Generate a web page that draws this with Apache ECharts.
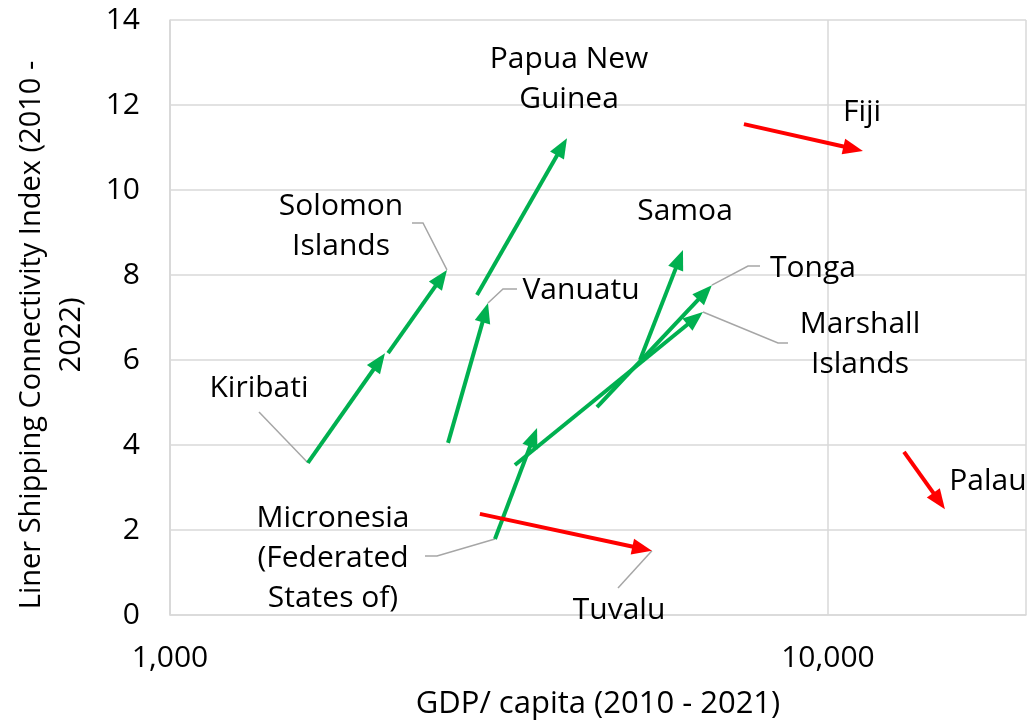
<!DOCTYPE html>
<html>
<head>
<meta charset="utf-8">
<script src="https://cdn.jsdelivr.net/npm/echarts@6/dist/echarts.min.js"></script>
<style>
  html, body { margin: 0; padding: 0; background: #fff; }
  #main { width: 1030px; height: 725px; }
</style>
</head>
<body>
<div id="main"></div>
<script>
// pacific island countries, 2010 -> 2021/22
const countries = ['Kiribati', 'Solomon Islands', 'Papua New Guinea', 'Vanuatu',
  'Micronesia (Federated States of)', 'Marshall Islands', 'Tonga', 'Samoa',
  'Tuvalu', 'Fiji', 'Palau']
const gdpStart = [1620, 2145, 2928, 2646, 3118, 3344, 4456, 5180, 2958, 7453, 13049]
const gdpEnd = [2122, 2636, 4012, 3043, 3613, 6457, 6662, 6021, 5401, 11303, 15060]
const lsciStart = [3.58, 6.16, 7.53, 4.05, 1.79, 3.53, 4.89, 6.0, 2.38, 11.55, 3.84]
const lsciEnd = [6.16, 8.12, 11.22, 7.34, 4.40, 7.13, 7.76, 8.59, 1.51, 10.92, 2.49]
const xTicks = [1000, 10000]

const FONT = '"Open Sans"'
const GREEN = '#00B050'
const RED = '#FF0000'

// label layout: text, centre, and leader line (ends at start or end point of the arrow)
const labelLayout = {
  'Kiribati': { text: 'Kiribati', pos: [259, 388], leader: [[259, 412]], at: 'start' },
  'Solomon Islands': { text: 'Solomon\nIslands', pos: [341, 226], leader: [[412, 223], [423, 223]], at: 'end' },
  'Papua New Guinea': { text: 'Papua New\nGuinea', pos: [569, 79] },
  'Vanuatu': { text: 'Vanuatu', pos: [581, 290], leader: [[517, 289], [503, 289]], at: 'end' },
  'Micronesia (Federated States of)': { text: 'Micronesia\n(Federated\nStates of)', pos: [333, 558], leader: [[425, 556], [437, 556]], at: 'start' },
  'Marshall Islands': { text: 'Marshall\nIslands', pos: [860, 344], leader: [[788, 343], [778, 343]], at: 'end' },
  'Tonga': { text: 'Tonga', pos: [813, 268], leader: [[760, 266], [748, 266]], at: 'end' },
  'Samoa': { text: 'Samoa', pos: [685, 211] },
  'Tuvalu': { text: 'Tuvalu', pos: [619, 610], leader: [[618, 588]], at: 'end' },
  'Fiji': { text: 'Fiji', pos: [862, 112] },
  'Palau': { text: 'Palau', pos: [988, 481] }
}

const arrowData = countries.map((c, i) => [gdpStart[i], lsciStart[i], gdpEnd[i], lsciEnd[i]])

const HEAD_LEN = 20
const HEAD_HALF = 8

// arrow from 2010 point to latest point; green when connectivity rose, red when it fell
function renderArrow(params, api) {
  const p0 = api.coord([api.value(0), api.value(1)])
  const p1 = api.coord([api.value(2), api.value(3)])
  const color = api.value(3) >= api.value(1) ? GREEN : RED
  const dx = p1[0] - p0[0], dy = p1[1] - p0[1]
  const len = Math.sqrt(dx * dx + dy * dy)
  const ux = dx / len, uy = dy / len
  const bx = p1[0] - ux * HEAD_LEN, by = p1[1] - uy * HEAD_LEN
  const lineEnd = [p1[0] - ux * HEAD_LEN * 0.6, p1[1] - uy * HEAD_LEN * 0.6]
  return {
    type: 'group',
    children: [{
      type: 'line',
      shape: { x1: p0[0], y1: p0[1], x2: lineEnd[0], y2: lineEnd[1] },
      style: { stroke: color, lineWidth: 4 }
    }, {
      type: 'polygon',
      shape: { points: [p1, [bx - uy * HEAD_HALF, by + ux * HEAD_HALF], [bx + uy * HEAD_HALF, by - ux * HEAD_HALF]] },
      style: { fill: color }
    }]
  }
}

const chart = echarts.init(document.getElementById('main'))

const option = {
  animation: false,
  grid: { left: 170, right: 4, top: 20, bottom: 110, outerBoundsMode: 'none' },
  xAxis: {
    type: 'log',
    logBase: 10,
    min: 1000,
    max: 20000,
    name: 'GDP/ capita (2010 - 2021)',
    nameLocation: 'middle',
    nameGap: 74,
    nameTextStyle: { fontFamily: FONT, fontSize: 31, color: '#000' },
    axisLine: { lineStyle: { color: '#d9d9d9', width: 1.5 } },
    axisTick: { show: false },
    minorTick: { show: false },
    axisLabel: {
      fontFamily: FONT, fontSize: 30, color: '#000', margin: 28,
      customValues: xTicks,
      formatter: v => Math.round(v).toLocaleString('en-US')
    },
    splitLine: { show: true, lineStyle: { color: '#d9d9d9', width: 1.5 } }
  },
  yAxis: {
    type: 'value',
    min: 0,
    max: 14,
    interval: 2,
    axisLine: { show: true, lineStyle: { color: '#d9d9d9', width: 1.5 } },
    axisTick: { show: false },
    axisLabel: { fontFamily: FONT, fontSize: 30, color: '#000', margin: 30 },
    splitLine: { lineStyle: { color: '#d9d9d9', width: 1.5 } }
  },
  series: [{
    type: 'custom',
    renderItem: renderArrow,
    encode: { x: [0, 2], y: [1, 3] },
    data: arrowData,
    clip: false,
    z: 5
  }]
}
chart.setOption(option)

// labels and leader lines
const graphics = []
countries.forEach((c, i) => {
  const lay = labelLayout[c]
  graphics.push({
    type: 'text',
    x: lay.pos[0], y: lay.pos[1],
    style: {
      text: lay.text, fill: '#000', font: '30px ' + FONT,
      align: 'center', verticalAlign: 'middle', lineHeight: 40
    },
    z: 10
  })
  if (lay.leader) {
    const anchor = lay.at === 'start' ? [gdpStart[i], lsciStart[i]] : [gdpEnd[i], lsciEnd[i]]
    const p = chart.convertToPixel({ gridIndex: 0 }, anchor)
    graphics.push({
      type: 'polyline',
      shape: { points: lay.leader.concat([p]) },
      style: { stroke: '#A6A6A6', lineWidth: 1.5, fill: null },
      z: 4
    })
  }
})
graphics.push({
  type: 'text',
  x: 52, y: 335,
  rotation: Math.PI / 2,
  style: {
    text: 'Liner Shipping Connectivity Index (2010 -\n2022)',
    fill: '#000', font: '29px ' + FONT,
    align: 'center', verticalAlign: 'middle', lineHeight: 40
  }
})
chart.setOption({ graphic: graphics })
</script>
</body>
</html>
